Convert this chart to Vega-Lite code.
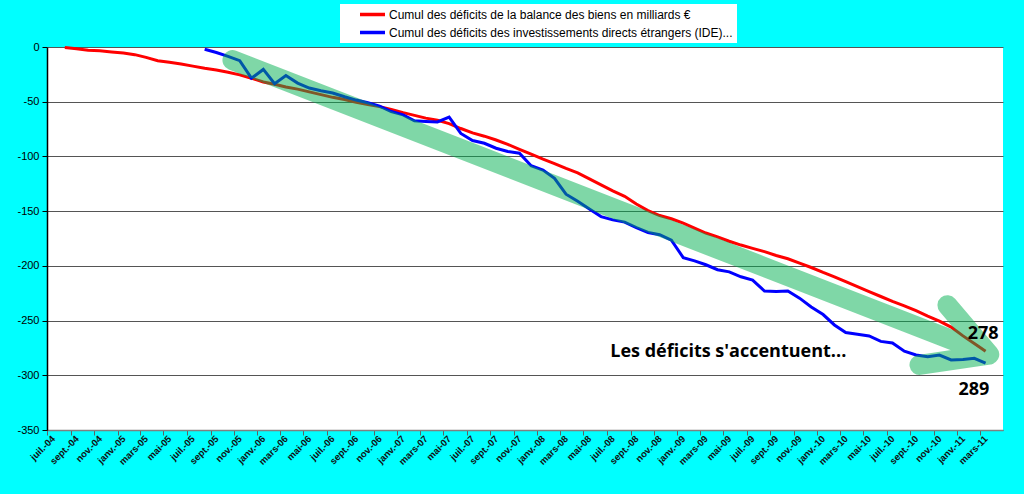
{
  "$schema": "https://vega.github.io/schema/vega-lite/v6.json",
  "description": "Cumul des déficits : balance des biens et IDE",
  "autosize": "none",
  "padding": {"left": 47, "top": 47, "right": 21, "bottom": 64},
  "width": 956,
  "height": 383,
  "background": "#00FFFF",
  "config": {
    "view": {"fill": "white", "stroke": null},
    "font": "Liberation Sans"
  },
  "datasets": {
    "mensuel": [
      {"mois": "2004/08/01", "biens": -0.5, "ide": null},
      {"mois": "2004/09/01", "biens": -1.5, "ide": null},
      {"mois": "2004/10/01", "biens": -3, "ide": null},
      {"mois": "2004/11/01", "biens": -3.5, "ide": null},
      {"mois": "2004/12/01", "biens": -4.5, "ide": null},
      {"mois": "2005/01/01", "biens": -5.5, "ide": null},
      {"mois": "2005/02/01", "biens": -7, "ide": null},
      {"mois": "2005/03/01", "biens": -9.5, "ide": null},
      {"mois": "2005/04/01", "biens": -12.5, "ide": null},
      {"mois": "2005/05/01", "biens": -14, "ide": null},
      {"mois": "2005/06/01", "biens": -15.5, "ide": null},
      {"mois": "2005/07/01", "biens": -17.5, "ide": null},
      {"mois": "2005/08/01", "biens": -19.5, "ide": -2},
      {"mois": "2005/09/01", "biens": -21, "ide": -5},
      {"mois": "2005/10/01", "biens": -23, "ide": -8.5},
      {"mois": "2005/11/01", "biens": -25.5, "ide": -12.5},
      {"mois": "2005/12/01", "biens": -28.5, "ide": -28.5},
      {"mois": "2006/01/01", "biens": -32, "ide": -20.5},
      {"mois": "2006/02/01", "biens": -34, "ide": -33.5},
      {"mois": "2006/03/01", "biens": -36.5, "ide": -26},
      {"mois": "2006/04/01", "biens": -38.5, "ide": -33},
      {"mois": "2006/05/01", "biens": -41, "ide": -37.5},
      {"mois": "2006/06/01", "biens": -43.5, "ide": -40},
      {"mois": "2006/07/01", "biens": -46, "ide": -42},
      {"mois": "2006/08/01", "biens": -48, "ide": -45.5},
      {"mois": "2006/09/01", "biens": -50.5, "ide": -48.5},
      {"mois": "2006/10/01", "biens": -52.5, "ide": -51},
      {"mois": "2006/11/01", "biens": -54.5, "ide": -54},
      {"mois": "2006/12/01", "biens": -57, "ide": -59},
      {"mois": "2007/01/01", "biens": -60, "ide": -62},
      {"mois": "2007/02/01", "biens": -62.5, "ide": -67.5},
      {"mois": "2007/03/01", "biens": -65, "ide": -68},
      {"mois": "2007/04/01", "biens": -67, "ide": -68.5},
      {"mois": "2007/05/01", "biens": -70, "ide": -64},
      {"mois": "2007/06/01", "biens": -74.5, "ide": -79},
      {"mois": "2007/07/01", "biens": -78.5, "ide": -85.5},
      {"mois": "2007/08/01", "biens": -81.5, "ide": -88},
      {"mois": "2007/09/01", "biens": -85, "ide": -92.5},
      {"mois": "2007/10/01", "biens": -89, "ide": -95.5},
      {"mois": "2007/11/01", "biens": -93.5, "ide": -97},
      {"mois": "2007/12/01", "biens": -98, "ide": -108.5},
      {"mois": "2008/01/01", "biens": -102.5, "ide": -112.5},
      {"mois": "2008/02/01", "biens": -106.5, "ide": -120},
      {"mois": "2008/03/01", "biens": -111, "ide": -134.5},
      {"mois": "2008/04/01", "biens": -115, "ide": -141},
      {"mois": "2008/05/01", "biens": -120.5, "ide": -148},
      {"mois": "2008/06/01", "biens": -126, "ide": -155},
      {"mois": "2008/07/01", "biens": -131.5, "ide": -158},
      {"mois": "2008/08/01", "biens": -136.5, "ide": -160},
      {"mois": "2008/09/01", "biens": -143.5, "ide": -165},
      {"mois": "2008/10/01", "biens": -149.5, "ide": -169.5},
      {"mois": "2008/11/01", "biens": -154, "ide": -171.5},
      {"mois": "2008/12/01", "biens": -157, "ide": -176.5},
      {"mois": "2009/01/01", "biens": -161, "ide": -192.5},
      {"mois": "2009/02/01", "biens": -165.5, "ide": -195.5},
      {"mois": "2009/03/01", "biens": -170, "ide": -199},
      {"mois": "2009/04/01", "biens": -173.5, "ide": -203.5},
      {"mois": "2009/05/01", "biens": -177.5, "ide": -205.5},
      {"mois": "2009/06/01", "biens": -181, "ide": -210},
      {"mois": "2009/07/01", "biens": -184, "ide": -213},
      {"mois": "2009/08/01", "biens": -187, "ide": -223},
      {"mois": "2009/09/01", "biens": -190.5, "ide": -223.5},
      {"mois": "2009/10/01", "biens": -193.5, "ide": -223},
      {"mois": "2009/11/01", "biens": -197.5, "ide": -229.5},
      {"mois": "2009/12/01", "biens": -201.5, "ide": -237.5},
      {"mois": "2010/01/01", "biens": -206, "ide": -244.5},
      {"mois": "2010/02/01", "biens": -210, "ide": -254},
      {"mois": "2010/03/01", "biens": -214.5, "ide": -261},
      {"mois": "2010/04/01", "biens": -219, "ide": -262.5},
      {"mois": "2010/05/01", "biens": -223.5, "ide": -264},
      {"mois": "2010/06/01", "biens": -228, "ide": -269},
      {"mois": "2010/07/01", "biens": -232.5, "ide": -270.5},
      {"mois": "2010/08/01", "biens": -236.5, "ide": -278},
      {"mois": "2010/09/01", "biens": -241, "ide": -281.5},
      {"mois": "2010/10/01", "biens": -246, "ide": -283},
      {"mois": "2010/11/01", "biens": -250.5, "ide": -281.5},
      {"mois": "2010/12/01", "biens": -256, "ide": -286},
      {"mois": "2011/01/01", "biens": -264, "ide": -285.5},
      {"mois": "2011/02/01", "biens": -271, "ide": -284.5},
      {"mois": "2011/03/01", "biens": -278, "ide": -289}
    ],
    "fleche": [
      {"ordre": 1, "date": "2005/10/28", "valeur": -12},
      {"ordre": 2, "date": "2011/03/26", "valeur": -281},
      {"ordre": 3, "date": "2010/12/07", "valeur": -236},
      {"ordre": 4, "date": "2011/03/26", "valeur": -281},
      {"ordre": 5, "date": "2010/09/25", "valeur": -290.5}
    ],
    "phrase": [
      {"date": "2008/07/10", "valeur": -278.5, "texte": "Les déficits s'accentuent..."}
    ],
    "chiffres": [
      {"date": "2011/03/10", "valeur": -262, "texte": "278"},
      {"date": "2011/02/14", "valeur": -313, "texte": "289"}
    ]
  },
  "layer": [
    {
      "data": {"name": "mensuel"},
      "transform": [{"fold": ["biens", "ide"], "as": ["serie", "valeur"]}],
      "mark": {"type": "line", "strokeWidth": 3},
      "encoding": {
        "x": {
          "field": "mois",
          "type": "temporal",
          "timeUnit": "yearmonth",
          "bandPosition": 0.5,
          "title": null,
          "scale": {
            "domain": [{"year": 2004, "month": 7, "date": 1}, {"year": 2011, "month": 4, "date": 30, "hours": 23}],
            "nice": false
          },
          "axis": {
            "tickCount": {"interval": "month", "step": 2},
            "labelExpr": "['janv.','févr.','mars','avr.','mai','juin','juil.','août','sept.','oct.','nov.','déc.'][month(datum.value)] + '-' + timeFormat(datum.value, '%y')",
            "labelAngle": -45,
            "labelAlign": "right",
            "labelBaseline": "middle",
            "labelOffset": 6,
            "labelPadding": 2,
            "labelFontSize": 9.5,
            "labelFontWeight": "bold",
            "labelColor": "#111111",
            "labelOverlap": false,
            "labelFlush": false,
            "domainColor": "#808080",
            "domainWidth": 1.5,
            "tickColor": "#606060",
            "tickSize": 5,
            "grid": false
          }
        },
        "y": {
          "field": "valeur",
          "type": "quantitative",
          "title": null,
          "scale": {"domain": [-350, 0], "nice": false},
          "axis": {
            "values": [-350, -300, -250, -200, -150, -100, -50, 0],
            "labelExpr": "datum.value + ''",
            "labelFontSize": 11,
            "labelColor": "#000000",
            "labelPadding": 3,
            "domainColor": "#000000",
            "domainWidth": 1.5,
            "tickColor": "#000000",
            "tickSize": 5,
            "grid": true,
            "gridColor": "#555555",
            "gridWidth": 1
          }
        },
        "color": {
          "field": "serie",
          "type": "nominal",
          "scale": {"domain": ["biens", "ide"], "range": ["#FF0000", "#0000FF"]},
          "legend": {
            "title": null,
            "orient": "none",
            "legendX": 293,
            "legendY": -43,
            "direction": "vertical",
            "fillColor": "white",
            "padding": 4,
            "symbolType": "stroke",
            "symbolSize": 625,
            "symbolStrokeWidth": 3.5,
            "symbolOffset": 14,
            "clipHeight": 13,
            "labelOffset": 2,
            "labelFontSize": 12,
            "labelColor": "#000000",
            "labelLimit": 500,
            "rowPadding": 5,
            "labelExpr": "datum.label == 'biens' ? 'Cumul des déficits de la balance des biens en milliards €' : 'Cumul des déficits des investissements directs étrangers (IDE)...'"
          }
        }
      }
    },
    {
      "data": {"name": "fleche"},
      "mark": {
        "type": "line",
        "color": "#00B050",
        "opacity": 0.5,
        "strokeWidth": 20,
        "strokeCap": "round",
        "strokeJoin": "round"
      },
      "encoding": {
        "x": {"field": "date", "type": "temporal", "scale": {"domain": [{"year": 2004, "month": 7, "date": 1}, {"year": 2011, "month": 4, "date": 30, "hours": 23}], "nice": false}},
        "y": {"field": "valeur", "type": "quantitative", "scale": {"domain": [-350, 0], "nice": false}},
        "order": {"field": "ordre"}
      }
    },
    {
      "data": {"name": "phrase"},
      "mark": {"type": "text", "align": "left", "baseline": "middle", "font": "Open Sans", "fontSize": 18, "fontWeight": "bold", "color": "#000000"},
      "encoding": {
        "x": {"field": "date", "type": "temporal"},
        "y": {"field": "valeur", "type": "quantitative"},
        "text": {"field": "texte"}
      }
    },
    {
      "data": {"name": "chiffres"},
      "mark": {"type": "text", "align": "center", "baseline": "middle", "font": "Open Sans", "fontSize": 18, "fontWeight": "bold", "color": "#000000"},
      "encoding": {
        "x": {"field": "date", "type": "temporal"},
        "y": {"field": "valeur", "type": "quantitative"},
        "text": {"field": "texte"}
      }
    }
  ]
}
